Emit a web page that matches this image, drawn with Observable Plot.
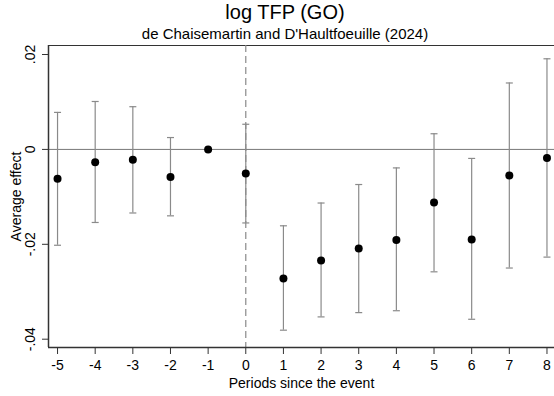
<!DOCTYPE html>
<html><head><meta charset="utf-8">
<script src="https://cdn.jsdelivr.net/npm/d3@7"></script>
<script src="https://cdn.jsdelivr.net/npm/@observablehq/plot@0.6"></script>
<style>
body{margin:0;background:#fff;font-family:"Liberation Sans",Arial,sans-serif;}
#wrap{width:554px;}
.t{width:554px;padding-left:16px;box-sizing:border-box;text-align:center;color:#000;}
#title{font-size:20px;height:24px;line-height:24px;}
#sub{font-size:15px;height:20px;line-height:20px;}
</style></head>
<body><div id="wrap">
<div class="t" id="title">log TFP (GO)</div>
<div class="t" id="sub">de Chaisemartin and D'Haultfoeuille (2024)</div>
<div id="chart"></div>
</div>
<script>
const periods = [-5,-4,-3,-2,-1,0,1,2,3,4,5,6,7,8];
const estimate = [-0.0062,-0.0027,-0.0022,-0.0058,0,-0.0051,-0.0272,-0.0234,-0.0209,-0.0191,-0.0112,-0.0190,-0.0055,-0.0018];
const upper = [0.0078,0.0101,0.0090,0.0025,null,0.0053,-0.0161,-0.0113,-0.0074,-0.0039,0.0033,-0.0019,0.0140,0.0191];
const lower = [-0.0202,-0.0154,-0.0134,-0.0140,null,-0.0155,-0.0381,-0.0353,-0.0344,-0.0340,-0.0258,-0.0358,-0.0250,-0.0227];
const yTicks = [0.02,0,-0.02,-0.04];
const yTickLabels = [".02","0","-.02","-.04"];

const data = periods.map((p,i)=>({p, est: estimate[i], hi: upper[i], lo: lower[i]}));
const ci = data.filter(d=>d.hi!=null);
const cap = {draw(ctx){ctx.moveTo(-3.5,0);ctx.lineTo(3.5,0);}};
const grey = "#8a8a8a";

const chart = Plot.plot({
  width: 554, height: 352,
  marginTop: 1, marginBottom: 49, marginLeft: 48, marginRight: 0,
  style: {fontFamily: "'Liberation Sans', Arial, sans-serif", fontSize: "14px", color: "#000", background: "#fff"},
  x: {domain: [-5.24, 8.2], label: null},
  y: {domain: [-0.04175, 0.0219], label: null},
  marks: [
    Plot.frame({anchor: "top", stroke: "#333"}),
    Plot.ruleY([0], {stroke: "#777", strokeWidth: 1}),
    Plot.ruleX([0], {stroke: grey, strokeWidth: 1.2, strokeDasharray: "7,4"}),
    Plot.ruleX(ci, {x: "p", y1: "lo", y2: "hi", stroke: grey, strokeWidth: 1.2}),
    Plot.dot(ci, {x: "p", y: "hi", symbol: cap, stroke: grey, strokeWidth: 1.2, fill: "none"}),
    Plot.dot(ci, {x: "p", y: "lo", symbol: cap, stroke: grey, strokeWidth: 1.2, fill: "none"}),
    Plot.dot(data, {x: "p", y: "est", r: 4, fill: "#000", stroke: "none"}),
    Plot.axisX({ticks: periods, tickFormat: d=>String(d), tickSize: 7, tickPadding: 6, label: "Periods since the event", labelAnchor: "center", labelOffset: 40, labelArrow: false, fontSize: 14, stroke: "#333"}),
    Plot.axisY({ticks: yTicks, tickFormat: d=>yTickLabels[yTicks.indexOf(d)], tickSize: 6, tickPadding: 8, tickRotate: -90, label: "Average effect", labelAnchor: "center", labelOffset: 37, labelArrow: false, fontSize: 14, stroke: "#333"}),
    Plot.ruleX([-5.24], {stroke: "#333", strokeWidth: 1.5}),
    Plot.ruleY([-0.04175], {stroke: "#333", strokeWidth: 1.5})
  ]
});
document.getElementById("chart").appendChild(chart);
</script>
</body></html>
